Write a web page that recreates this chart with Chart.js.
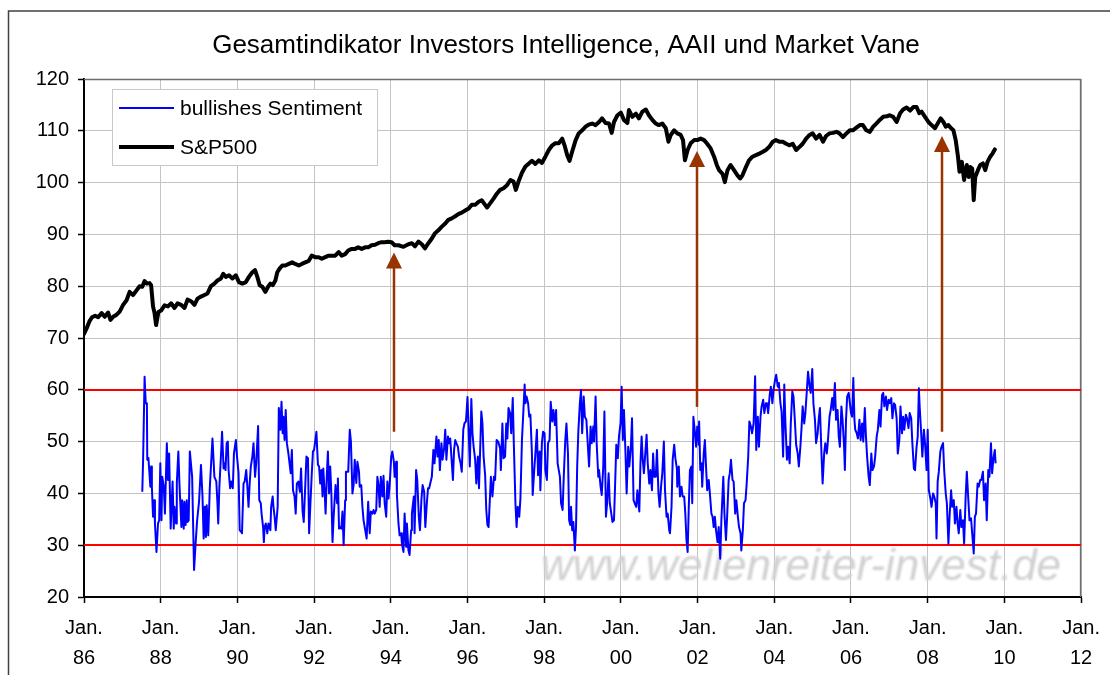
<!DOCTYPE html>
<html>
<head>
<meta charset="utf-8">
<title>Gesamtindikator Investors Intelligence, AAII und Market Vane</title>
<script src="https://cdn.jsdelivr.net/npm/chart.js@4.4.1/dist/chart.umd.min.js"></script>
<style>
  html, body { margin: 0; padding: 0; background: #fff; }
  #wrap { width: 1110px; height: 675px; }
</style>
</head>
<body>
<div id="wrap"><canvas id="chart" width="1110" height="675"></canvas></div>
<script>
// Values: [decimal year, value]
const sentimentSeries = [
  [1987.52,40.3],[1987.54,46.1],[1987.58,62.5],[1987.61,57.4],[1987.64,57.4],[1987.65,46.5],[1987.68,46.8],[1987.73,41.3],
  [1987.75,45.2],[1987.77,41.3],[1987.80,35.5],[1987.83,38.7],[1987.85,34.2],[1987.89,28.7],[1987.93,34.2],[1987.96,34.8],
  [1987.99,45.8],[1988.02,34.8],[1988.04,43.2],[1988.08,41.3],[1988.11,36.1],[1988.16,49.7],[1988.19,42.6],[1988.22,47.7],
  [1988.26,33.2],[1988.31,42.3],[1988.34,33.2],[1988.36,37.4],[1988.40,34.2],[1988.42,41.9],[1988.46,48.1],[1988.49,41.6],
  [1988.54,33.5],[1988.56,38.7],[1988.60,33.2],[1988.62,38.4],[1988.65,33.9],[1988.68,38.7],[1988.70,34.5],[1988.73,34.8],
  [1988.76,48.1],[1988.82,43.2],[1988.87,25.2],[1988.91,30.3],[1988.95,34.8],[1989.00,38.4],[1989.05,45.5],[1989.09,39.4],
  [1989.12,31.3],[1989.15,37.4],[1989.18,31.6],[1989.20,37.7],[1989.24,31.9],[1989.28,41.0],[1989.32,46.5],[1989.35,50.6],
  [1989.40,43.2],[1989.45,42.3],[1989.48,38.1],[1989.50,34.2],[1989.53,41.3],[1989.57,47.1],[1989.60,51.9],[1989.64,44.8],
  [1989.67,45.8],[1989.69,44.5],[1989.72,49.7],[1989.75,50.0],[1989.77,44.5],[1989.81,41.0],[1989.84,42.3],[1989.88,41.0],
  [1989.91,47.7],[1989.96,50.3],[1989.99,47.1],[1990.03,43.9],[1990.06,32.9],[1990.10,32.6],[1990.12,32.3],[1990.16,41.9],
  [1990.19,42.3],[1990.23,44.5],[1990.26,41.3],[1990.29,37.4],[1990.32,41.9],[1990.35,45.2],[1990.39,47.1],[1990.42,49.7],
  [1990.46,43.2],[1990.49,45.8],[1990.54,53.0],[1990.57,38.7],[1990.61,38.1],[1990.63,36.1],[1990.67,33.5],[1990.69,30.6],
  [1990.71,33.5],[1990.74,34.2],[1990.78,32.3],[1990.81,34.2],[1990.86,32.9],[1990.88,37.4],[1990.92,39.4],[1990.94,37.4],
  [1990.97,35.5],[1991.00,32.9],[1991.05,37.4],[1991.08,56.5],[1991.12,52.3],[1991.15,57.7],[1991.18,51.6],[1991.20,54.8],
  [1991.23,50.3],[1991.26,56.1],[1991.29,49.7],[1991.33,47.7],[1991.39,43.9],[1991.42,48.4],[1991.45,40.6],[1991.49,39.4],
  [1991.52,36.1],[1991.55,41.9],[1991.59,42.3],[1991.63,40.3],[1991.66,44.8],[1991.70,36.5],[1991.73,34.5],[1991.77,41.6],
  [1991.80,47.1],[1991.84,46.8],[1991.87,32.3],[1991.90,37.4],[1991.94,43.9],[1991.97,48.1],
  [1992.00,48.4],[1992.06,51.9],[1992.10,45.5],[1992.13,45.2],[1992.16,41.9],[1992.19,44.5],[1992.22,39.4],[1992.24,44.8],
  [1992.28,39.4],[1992.30,36.1],[1992.33,43.2],[1992.36,48.1],[1992.39,40.0],[1992.42,45.2],[1992.45,40.0],[1992.48,30.6],
  [1992.51,35.5],[1992.54,39.4],[1992.56,41.6],[1992.60,38.1],[1992.62,42.9],[1992.65,33.2],[1992.68,33.5],[1992.71,33.2],
  [1992.74,36.5],[1992.77,30.0],[1992.81,38.7],[1992.83,44.2],[1992.89,44.2],[1992.93,52.3],[1992.96,50.0],[1993.00,40.0],
  [1993.03,41.6],[1993.06,46.5],[1993.10,42.0],[1993.13,46.1],[1993.17,44.2],[1993.19,41.3],[1993.23,41.6],[1993.26,37.4],
  [1993.29,34.8],[1993.32,33.5],[1993.37,31.3],[1993.41,38.4],[1993.45,32.3],[1993.48,36.5],[1993.52,36.1],[1993.55,36.8],
  [1993.58,36.1],[1993.62,36.8],[1993.65,43.2],[1993.68,41.6],[1993.71,37.4],[1993.74,43.2],[1993.78,39.4],[1993.81,43.4],
  [1993.84,38.1],[1993.88,35.5],[1993.91,42.3],[1993.94,39.0],[1993.97,41.6],[1994.01,47.0],[1994.04,48.1],[1994.08,46.1],
  [1994.10,43.2],[1994.14,46.1],[1994.16,39.7],[1994.20,34.2],[1994.23,31.9],[1994.27,32.3],[1994.29,30.3],[1994.33,28.7],
  [1994.36,36.1],[1994.40,29.7],[1994.42,34.2],[1994.46,29.0],[1994.49,28.1],[1994.53,32.9],[1994.55,36.1],[1994.60,39.4],
  [1994.62,32.3],[1994.66,44.5],[1994.69,42.6],[1994.73,35.5],[1994.76,32.9],[1994.80,39.0],[1994.83,41.6],[1994.87,40.3],
  [1994.90,33.5],[1994.94,38.1],[1994.97,41.0],[1995.00,41.0],[1995.04,42.3],[1995.07,43.2],[1995.11,48.4],[1995.14,45.8],
  [1995.19,51.0],[1995.22,47.1],[1995.25,50.3],[1995.28,44.5],[1995.32,49.7],[1995.35,46.5],[1995.39,48.7],[1995.42,52.3],
  [1995.45,46.5],[1995.49,51.0],[1995.52,49.7],[1995.55,50.6],[1995.58,47.1],[1995.62,42.6],[1995.65,48.4],[1995.68,50.3],
  [1995.71,49.7],[1995.75,49.0],[1995.78,47.1],[1995.82,45.8],[1995.85,44.2],[1995.89,52.3],[1995.92,53.5],[1995.96,53.9],
  [1996.00,58.6],[1996.03,52.3],[1996.06,45.2],[1996.10,58.2],[1996.13,51.6],[1996.16,49.0],[1996.20,46.5],[1996.23,41.9],
  [1996.27,47.1],[1996.30,41.0],[1996.36,55.8],[1996.39,53.5],[1996.42,47.1],[1996.46,43.5],[1996.49,36.8],[1996.52,33.9],
  [1996.55,33.5],[1996.61,43.2],[1996.65,39.4],[1996.69,43.2],[1996.72,42.6],[1996.76,50.3],[1996.80,50.0],[1996.85,48.7],
  [1996.87,44.5],[1996.91,53.5],[1996.94,46.8],[1996.98,47.1],[1997.01,53.5],[1997.04,50.6],[1997.07,56.5],[1997.11,55.5],
  [1997.14,51.6],[1997.18,58.4],[1997.21,49.0],[1997.25,38.1],[1997.28,33.5],[1997.31,37.4],[1997.35,35.5],[1997.38,39.0],
  [1997.42,50.3],[1997.45,54.8],[1997.49,61.0],[1997.51,57.4],[1997.54,58.7],[1997.58,57.4],[1997.61,54.8],[1997.64,55.2],
  [1997.68,47.7],[1997.70,39.7],[1997.74,44.5],[1997.77,47.7],[1997.81,52.3],[1997.84,43.5],[1997.88,48.1],[1997.90,40.6],
  [1997.94,49.7],[1997.97,51.9],[1998.01,51.6],[1998.03,44.5],[1998.07,42.6],[1998.10,49.7],[1998.14,50.3],[1998.17,57.7],
  [1998.21,53.9],[1998.24,56.1],[1998.28,53.2],[1998.31,56.1],[1998.35,45.8],[1998.38,44.5],[1998.41,43.2],[1998.44,38.1],
  [1998.48,36.8],[1998.51,43.2],[1998.55,50.3],[1998.58,53.5],[1998.62,47.7],[1998.65,34.8],[1998.68,33.9],[1998.70,37.4],
  [1998.73,32.9],[1998.76,34.5],[1998.80,29.0],[1998.83,33.5],[1998.86,45.2],[1998.89,51.9],[1998.93,57.4],[1998.96,60.0],
  [1998.99,51.6],[1999.03,58.7],[1999.06,54.8],[1999.10,54.2],[1999.14,49.0],[1999.17,45.2],[1999.21,52.9],[1999.24,49.7],
  [1999.28,52.9],[1999.30,50.0],[1999.34,58.7],[1999.37,49.4],[1999.41,43.2],[1999.43,44.5],[1999.47,41.3],[1999.50,39.7],
  [1999.54,45.2],[1999.57,55.8],[1999.61,35.5],[1999.64,38.1],[1999.68,43.9],[1999.71,38.1],[1999.75,36.1],[1999.78,34.5],
  [1999.82,34.8],[1999.85,41.9],[1999.88,49.4],[1999.92,46.8],[1999.95,51.0],[1999.99,53.5],[2000.02,60.6],[2000.05,50.3],
  [2000.08,56.1],[2000.12,47.7],[2000.15,40.0],[2000.19,49.0],[2000.22,45.2],[2000.26,49.0],[2000.29,54.5],[2000.33,38.7],
  [2000.36,38.1],[2000.40,37.4],[2000.43,40.6],[2000.48,36.5],[2000.51,45.8],[2000.54,51.0],[2000.57,46.5],[2000.60,43.9],
  [2000.63,47.1],[2000.67,51.3],[2000.70,45.8],[2000.74,41.9],[2000.77,44.5],[2000.81,40.6],[2000.84,47.7],[2000.87,43.2],
  [2000.91,43.2],[2000.94,48.4],[2000.98,40.0],[2001.01,37.4],[2001.05,41.6],[2001.08,43.9],[2001.12,50.0],[2001.15,40.6],
  [2001.19,35.5],[2001.22,36.1],[2001.26,32.9],[2001.28,32.3],[2001.32,37.4],[2001.35,46.5],[2001.39,49.4],[2001.42,46.8],
  [2001.46,44.8],[2001.47,41.3],[2001.51,45.2],[2001.54,39.4],[2001.58,41.3],[2001.61,39.4],[2001.65,39.4],[2001.68,36.1],
  [2001.71,31.0],[2001.74,28.7],[2001.77,37.4],[2001.80,44.5],[2001.84,45.2],[2001.86,38.1],[2001.89,54.8],[2001.92,52.6],
  [2001.96,49.0],[2001.99,52.9],[2002.03,49.4],[2002.04,53.9],[2002.07,44.5],[2002.10,45.8],[2002.12,41.3],[2002.16,47.7],
  [2002.19,50.3],[2002.22,45.2],[2002.25,40.6],[2002.29,42.6],[2002.32,40.0],[2002.36,36.1],[2002.39,35.5],[2002.42,33.5],
  [2002.45,35.5],[2002.48,32.9],[2002.52,30.6],[2002.55,33.5],[2002.59,27.4],[2002.62,34.8],[2002.67,43.2],[2002.70,36.1],
  [2002.74,31.0],[2002.77,35.5],[2002.81,42.6],[2002.84,43.9],[2002.87,46.5],[2002.91,42.6],[2002.94,42.3],[2002.98,36.1],
  [2003.01,38.7],[2003.05,35.5],[2003.08,33.5],[2003.12,32.3],[2003.14,29.0],[2003.18,32.9],[2003.21,38.1],[2003.25,38.7],
  [2003.28,41.9],[2003.32,47.1],[2003.35,53.9],[2003.39,52.9],[2003.42,51.6],[2003.46,53.5],[2003.50,62.6],[2003.53,48.4],
  [2003.57,54.8],[2003.60,49.0],[2003.64,54.8],[2003.67,56.8],[2003.71,58.1],[2003.74,55.5],[2003.78,57.4],[2003.81,57.4],
  [2003.84,55.5],[2003.88,59.0],[2003.91,60.6],[2003.95,57.4],[2003.98,60.0],[2004.02,61.9],[2004.05,62.9],[2004.09,60.6],
  [2004.12,61.3],[2004.16,57.4],[2004.19,55.8],[2004.23,47.1],[2004.26,61.0],[2004.29,53.5],[2004.33,46.5],[2004.36,49.0],
  [2004.40,45.8],[2004.43,53.5],[2004.47,59.7],[2004.50,58.7],[2004.54,53.5],[2004.57,49.4],[2004.61,47.7],[2004.64,45.2],
  [2004.68,49.0],[2004.71,52.6],[2004.74,56.8],[2004.78,53.5],[2004.81,55.5],[2004.85,60.0],[2004.88,63.5],[2004.92,60.6],
  [2004.95,59.4],[2004.99,64.0],[2005.02,57.4],[2005.06,54.2],[2005.09,49.7],[2005.13,51.6],[2005.16,54.5],[2005.19,56.5],
  [2005.23,47.7],[2005.26,41.9],[2005.30,47.7],[2005.33,49.7],[2005.37,47.7],[2005.40,50.3],[2005.44,54.8],[2005.47,56.1],
  [2005.51,58.4],[2005.54,56.1],[2005.58,61.3],[2005.61,54.2],[2005.65,56.1],[2005.68,51.0],[2005.71,49.0],[2005.75,56.8],
  [2005.78,54.2],[2005.82,49.0],[2005.84,44.5],[2005.87,54.2],[2005.90,58.7],[2005.94,59.4],[2006.00,55.5],[2006.03,54.8],
  [2006.06,62.3],[2006.09,54.2],[2006.11,52.3],[2006.15,51.6],[2006.18,50.6],[2006.22,54.2],[2006.25,50.3],[2006.29,53.5],
  [2006.32,50.0],[2006.36,56.5],[2006.39,51.0],[2006.42,47.1],[2006.46,43.2],[2006.49,41.6],[2006.53,47.7],[2006.56,44.5],
  [2006.60,45.2],[2006.63,47.1],[2006.67,51.0],[2006.70,52.3],[2006.74,56.1],[2006.77,52.9],[2006.81,59.0],[2006.84,59.4],
  [2006.87,56.8],[2006.91,58.7],[2006.94,56.1],[2006.98,58.1],[2007.01,57.4],[2007.05,58.4],[2007.08,54.5],[2007.12,57.4],
  [2007.15,57.1],[2007.19,54.5],[2007.22,47.7],[2007.26,50.3],[2007.29,56.8],[2007.33,51.6],[2007.36,54.8],[2007.39,52.3],
  [2007.43,55.2],[2007.46,54.5],[2007.50,52.6],[2007.53,55.5],[2007.57,54.5],[2007.60,49.7],[2007.64,44.8],[2007.67,44.5],
  [2007.71,49.0],[2007.74,51.0],[2007.77,60.3],[2007.79,56.8],[2007.83,51.6],[2007.86,47.1],[2007.90,52.3],[2007.93,49.7],
  [2007.97,44.5],[2008.00,52.3],[2008.03,40.6],[2008.07,39.0],[2008.10,37.4],[2008.14,40.0],[2008.17,39.4],[2008.21,38.1],
  [2008.23,31.3],[2008.26,42.3],[2008.29,44.2],[2008.33,48.1],[2008.36,49.0],[2008.40,49.7],[2008.43,44.5],[2008.47,40.0],
  [2008.50,38.1],[2008.54,30.3],[2008.57,35.5],[2008.61,40.6],[2008.64,37.4],[2008.68,38.7],[2008.71,34.2],[2008.75,37.4],
  [2008.78,34.2],[2008.81,32.3],[2008.85,36.8],[2008.88,33.5],[2008.92,34.8],[2008.95,30.3],[2008.99,39.4],[2009.02,44.2],
  [2009.06,38.7],[2009.09,34.8],[2009.13,35.2],[2009.16,32.3],[2009.20,28.4],[2009.23,35.5],[2009.26,36.1],[2009.30,41.9],
  [2009.33,41.3],[2009.37,42.6],[2009.40,42.6],[2009.44,44.2],[2009.47,38.7],[2009.51,41.9],[2009.54,34.8],[2009.58,44.5],
  [2009.61,43.2],[2009.65,49.7],[2009.68,43.9],[2009.71,46.5],[2009.75,48.4],[2009.77,45.8]
];

const spxSeries = [
  [1986.00,70.8],[1986.07,71.9],[1986.14,73.2],[1986.21,74.0],[1986.29,74.3],[1986.37,74.0],[1986.46,74.8],[1986.54,74.1],
  [1986.63,74.9],[1986.69,73.5],[1986.76,74.1],[1986.85,74.5],[1986.93,75.1],[1987.02,76.4],[1987.11,77.3],[1987.19,78.9],
  [1987.28,78.3],[1987.37,79.2],[1987.45,80.0],[1987.52,79.9],[1987.58,81.0],[1987.64,80.5],[1987.71,80.6],[1987.75,80.2],
  [1987.80,76.1],[1987.84,74.8],[1987.88,72.5],[1987.94,75.0],[1988.01,75.3],[1988.10,76.3],[1988.19,76.1],[1988.27,76.7],
  [1988.36,75.8],[1988.44,76.7],[1988.53,76.4],[1988.62,75.8],[1988.70,77.4],[1988.79,77.1],[1988.88,76.4],[1988.96,77.6],
  [1989.05,78.0],[1989.14,78.3],[1989.22,78.6],[1989.31,80.0],[1989.40,80.5],[1989.48,81.1],[1989.57,81.5],[1989.63,82.4],
  [1989.70,81.8],[1989.78,82.1],[1989.87,81.5],[1989.96,82.1],[1990.04,80.8],[1990.13,80.5],[1990.22,80.8],[1990.30,81.8],
  [1990.39,82.7],[1990.46,83.1],[1990.52,81.8],[1990.58,80.2],[1990.65,79.9],[1990.73,78.9],[1990.80,79.9],[1990.86,80.5],
  [1990.92,80.2],[1990.99,81.1],[1991.04,82.7],[1991.10,83.4],[1991.17,84.0],[1991.25,84.0],[1991.34,84.3],[1991.43,84.6],
  [1991.51,84.3],[1991.60,84.0],[1991.68,84.3],[1991.77,84.6],[1991.86,84.9],[1991.94,85.9],[1992.03,85.6],[1992.12,85.6],
  [1992.20,85.3],[1992.29,85.6],[1992.38,85.9],[1992.46,85.9],[1992.55,85.9],[1992.64,86.6],[1992.72,85.9],[1992.81,86.2],
  [1992.89,86.9],[1992.98,87.2],[1993.07,87.2],[1993.15,87.5],[1993.24,87.2],[1993.33,87.5],[1993.41,87.5],[1993.50,87.9],
  [1993.59,88.0],[1993.67,88.3],[1993.76,88.5],[1993.84,88.5],[1993.93,88.6],[1994.02,88.5],[1994.10,87.9],[1994.20,87.9],
  [1994.33,87.6],[1994.46,88.1],[1994.55,88.3],[1994.63,87.7],[1994.72,88.6],[1994.81,88.1],[1994.89,87.3],[1994.98,88.3],
  [1995.07,89.2],[1995.15,90.2],[1995.24,90.8],[1995.33,91.5],[1995.42,92.1],[1995.50,92.8],[1995.59,93.1],[1995.68,93.5],
  [1995.76,93.9],[1995.85,94.2],[1995.94,94.6],[1996.03,95.0],[1996.11,95.7],[1996.20,95.7],[1996.29,96.3],[1996.37,96.6],
  [1996.46,95.7],[1996.51,95.2],[1996.59,96.0],[1996.68,96.9],[1996.77,97.9],[1996.85,98.6],[1996.94,98.9],[1997.03,99.5],
  [1997.12,100.5],[1997.20,100.2],[1997.26,98.6],[1997.33,100.2],[1997.42,101.9],[1997.51,103.1],[1997.60,103.7],[1997.68,104.2],
  [1997.77,103.6],[1997.86,104.3],[1997.94,103.8],[1998.03,105.0],[1998.12,106.3],[1998.21,107.2],[1998.29,107.6],[1998.38,107.6],
  [1998.47,108.5],[1998.53,107.2],[1998.60,105.3],[1998.66,104.2],[1998.73,106.0],[1998.82,108.2],[1998.90,109.5],[1998.99,110.1],
  [1999.08,110.8],[1999.16,111.2],[1999.25,111.4],[1999.34,111.1],[1999.43,111.7],[1999.51,112.4],[1999.60,111.5],[1999.69,111.4],
  [1999.76,109.6],[1999.82,111.7],[1999.91,113.0],[2000.00,113.5],[2000.08,112.1],[2000.17,111.5],[2000.21,114.0],[2000.30,112.7],
  [2000.39,113.3],[2000.47,112.4],[2000.56,113.7],[2000.65,114.1],[2000.73,113.0],[2000.82,112.1],[2000.91,111.4],[2000.99,111.1],
  [2001.08,111.4],[2001.17,110.5],[2001.24,107.9],[2001.30,109.2],[2001.39,110.1],[2001.47,109.5],[2001.56,109.2],[2001.62,108.2],
  [2001.67,104.3],[2001.74,106.3],[2001.82,107.6],[2001.91,108.2],[2001.99,108.2],[2002.08,108.5],[2002.17,108.2],[2002.25,107.5],
  [2002.34,106.6],[2002.43,105.0],[2002.50,103.4],[2002.56,102.4],[2002.65,101.7],[2002.71,100.1],[2002.78,102.4],[2002.86,103.4],
  [2002.95,102.4],[2003.04,101.4],[2003.11,100.8],[2003.17,101.4],[2003.26,103.0],[2003.34,104.3],[2003.43,105.0],[2003.52,105.3],
  [2003.61,105.6],[2003.69,105.9],[2003.78,106.3],[2003.87,106.9],[2003.96,107.9],[2004.04,108.2],[2004.13,107.9],[2004.22,107.9],
  [2004.31,107.5],[2004.39,107.2],[2004.48,107.5],[2004.57,106.3],[2004.66,106.9],[2004.74,107.5],[2004.83,108.5],[2004.92,109.2],
  [2005.00,109.5],[2005.09,108.5],[2005.18,109.2],[2005.27,107.9],[2005.35,109.0],[2005.44,109.5],[2005.53,109.6],[2005.62,109.8],
  [2005.70,109.5],[2005.79,108.8],[2005.88,109.5],[2005.97,110.1],[2006.05,110.1],[2006.14,110.6],[2006.23,111.1],[2006.31,111.1],
  [2006.40,110.1],[2006.49,109.8],[2006.58,110.8],[2006.66,111.4],[2006.75,112.1],[2006.84,112.7],[2006.93,112.8],[2007.01,113.0],
  [2007.10,112.7],[2007.19,111.7],[2007.28,113.4],[2007.36,114.1],[2007.45,114.5],[2007.54,113.9],[2007.63,114.6],[2007.71,114.6],
  [2007.78,113.4],[2007.84,113.7],[2007.93,112.7],[2008.02,111.7],[2008.10,111.1],[2008.19,110.5],[2008.26,111.4],[2008.34,112.4],
  [2008.41,111.7],[2008.47,110.8],[2008.54,111.1],[2008.61,110.5],[2008.67,110.1],[2008.73,108.2],[2008.79,105.0],[2008.83,102.1],
  [2008.89,104.0],[2008.95,100.5],[2009.02,103.4],[2009.07,101.1],[2009.11,103.0],[2009.16,102.7],[2009.20,96.6],[2009.24,101.1],
  [2009.31,102.4],[2009.37,103.4],[2009.44,103.7],[2009.50,102.4],[2009.56,104.0],[2009.63,105.0],[2009.69,105.6],[2009.75,106.4]
];

const yearRange = [1986, 2012];
const valueRange = [20, 120];
const signalLevels = [60, 30];

// brown arrows: date, start value, tip value
const arrowDates = [1994.08, 2001.99, 2008.36];
const arrowFrom = [51.9, 56.7, 51.9];
const arrowTo = [86.5, 106.1, 109.0];

const chartTitle = 'Gesamtindikator Investors Intelligence, AAII und Market Vane';
const legendLabels = ['bullishes Sentiment', 'S&P500'];
const watermark = 'www.wellenreiter-invest.de';

const FONT = '"Liberation Sans", Arial, Helvetica, sans-serif';

function toPoints(series) {
    return series.map(function (p) { return { x: p[0], y: p[1] }; });
}

const extras = {
    id: 'extras',
    beforeDraw(chart) {
        const ctx = chart.ctx;
        ctx.save();
        ctx.fillStyle = '#fff';
        ctx.fillRect(0, 0, chart.width, chart.height);
        // outer frame (cut off at right and bottom)
        ctx.strokeStyle = '#404040';
        ctx.lineWidth = 1.5;
        ctx.beginPath();
        ctx.moveTo(8.5, chart.height);
        ctx.lineTo(8.5, 11);
        ctx.lineTo(chart.width, 11);
        ctx.stroke();
        ctx.restore();
    },
    beforeDatasetsDraw(chart) {
        const ctx = chart.ctx;
        const a = chart.chartArea;
        const y = chart.scales.y;
        ctx.save();
        // plot frame top / right
        ctx.strokeStyle = '#6e6e6e';
        ctx.lineWidth = 1.5;
        ctx.beginPath();
        ctx.moveTo(a.left, a.top + 0.5);
        ctx.lineTo(a.right - 0.5, a.top + 0.5);
        ctx.lineTo(a.right - 0.5, a.bottom);
        ctx.stroke();

        // watermark
        ctx.font = 'italic 44px ' + FONT;
        ctx.fillStyle = '#d0d0d0';
        ctx.filter = 'blur(0.8px)';
        ctx.textAlign = 'left';
        ctx.textBaseline = 'alphabetic';
        ctx.fillText(watermark, 541, 580);
        ctx.filter = 'none';

        // red signal lines
        ctx.strokeStyle = '#ff0000';
        ctx.lineWidth = 2;
        signalLevels.forEach(function (v) {
            const py = Math.round(y.getPixelForValue(v));
            ctx.beginPath();
            ctx.moveTo(a.left, py);
            ctx.lineTo(a.right, py);
            ctx.stroke();
        });
        ctx.restore();
    },
    afterDatasetsDraw(chart) {
        const ctx = chart.ctx;
        const x = chart.scales.x;
        const y = chart.scales.y;
        ctx.save();
        ctx.strokeStyle = '#993300';
        ctx.fillStyle = '#993300';
        ctx.lineWidth = 2.5;
        for (let i = 0; i < arrowDates.length; i++) {
            const px = Math.round(x.getPixelForValue(arrowDates[i]));
            const y0 = y.getPixelForValue(arrowFrom[i]);
            const y1 = y.getPixelForValue(arrowTo[i]);
            ctx.beginPath();
            ctx.moveTo(px, y0);
            ctx.lineTo(px, y1 + 12);
            ctx.stroke();
            ctx.beginPath();
            ctx.moveTo(px, y1);
            ctx.lineTo(px - 8, y1 + 16);
            ctx.lineTo(px + 8, y1 + 16);
            ctx.closePath();
            ctx.fill();
        }
        ctx.restore();
    },
    afterDraw(chart) {
        const ctx = chart.ctx;
        ctx.save();
        // title
        ctx.fillStyle = '#000';
        ctx.font = '26px ' + FONT;
        ctx.textAlign = 'center';
        ctx.textBaseline = 'middle';
        ctx.fillText(chartTitle, 566, 46);

        // legend box
        ctx.fillStyle = '#fff';
        ctx.fillRect(112.5, 89.5, 265, 76);
        ctx.strokeStyle = '#c8c8c8';
        ctx.lineWidth = 1;
        ctx.strokeRect(112.5, 89.5, 265, 76);

        const colors = ['#0000ff', '#000000'];
        const widths = [2, 4];
        const rows = [108, 147];
        ctx.font = '21px ' + FONT;
        ctx.textAlign = 'left';
        for (let i = 0; i < legendLabels.length; i++) {
            ctx.strokeStyle = colors[i];
            ctx.lineWidth = widths[i];
            ctx.beginPath();
            ctx.moveTo(119, rows[i]);
            ctx.lineTo(174, rows[i]);
            ctx.stroke();
            ctx.fillStyle = '#000';
            ctx.fillText(legendLabels[i], 180, rows[i] + 1);
        }
        ctx.restore();
    }
};

new Chart(document.getElementById('chart'), {
    type: 'line',
    data: {
        datasets: [
            {
                label: legendLabels[0],
                data: toPoints(sentimentSeries),
                borderColor: '#0000ff',
                borderWidth: 2,
                pointRadius: 0,
                tension: 0,
                borderJoinStyle: 'round'
            },
            {
                label: legendLabels[1],
                data: toPoints(spxSeries),
                borderColor: '#000000',
                borderWidth: 4,
                pointRadius: 0,
                tension: 0,
                borderJoinStyle: 'round',
                borderCapStyle: 'round'
            }
        ]
    },
    options: {
        responsive: false,
        animation: false,
        devicePixelRatio: 1,
        layout: { padding: { left: 0, right: 27, top: 79, bottom: 0 } },
        plugins: {
            legend: { display: false },
            title: { display: false },
            tooltip: { enabled: false }
        },
        scales: {
            x: {
                type: 'linear',
                min: yearRange[0],
                max: yearRange[1],
                afterFit: function (scale) { scale.height = 78; },
                grid: { color: '#c4c4c4', lineWidth: 1, tickLength: 6, tickColor: '#000', tickWidth: 1.5 },
                border: { color: '#000', width: 2 },
                ticks: {
                    stepSize: 2,
                    autoSkip: false,
                    maxRotation: 0,
                    padding: 10,
                    color: '#000',
                    font: { family: FONT, size: 20, lineHeight: 1.5 },
                    callback: function (value) {
                        return ['Jan.', String(value).slice(2)];
                    }
                }
            },
            y: {
                min: valueRange[0],
                max: valueRange[1],
                afterFit: function (scale) { scale.width = 84; },
                grid: { color: '#c4c4c4', lineWidth: 1, tickLength: 6, tickColor: '#000', tickWidth: 1.5 },
                border: { color: '#000', width: 2 },
                ticks: {
                    stepSize: 10,
                    padding: 9,
                    color: '#000',
                    font: { family: FONT, size: 20 }
                }
            }
        }
    },
    plugins: [extras]
});
</script>
</body>
</html>
